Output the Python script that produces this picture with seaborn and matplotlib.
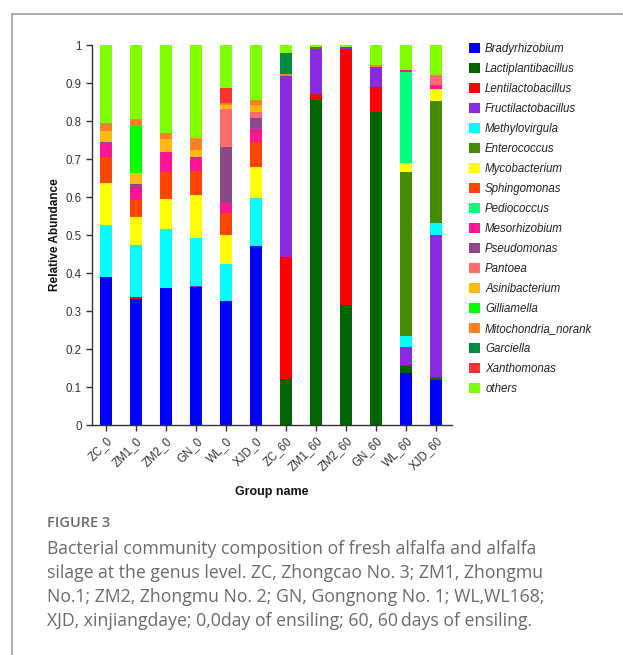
import matplotlib
matplotlib.use("Agg")
import matplotlib.pyplot as plt
from matplotlib.patches import Patch
from matplotlib.lines import Line2D
import numpy as np
import pandas as pd
import seaborn as sns

# Sample groups (fresh = _0, 60-day silage = _60)
groups = ["ZC_0", "ZM1_0", "ZM2_0", "GN_0", "WL_0", "XJD_0",
          "ZC_60", "ZM1_60", "ZM2_60", "GN_60", "WL_60", "XJD_60"]

# Genera in stacking order (bottom to top)
taxa = ["Bradyrhizobium", "Lactiplantibacillus", "Lentilactobacillus",
        "Fructilactobacillus", "Methylovirgula", "Enterococcus",
        "Mycobacterium", "Sphingomonas", "Pediococcus", "Mesorhizobium",
        "Pseudomonas", "Pantoea", "Asinibacterium", "Gilliamella",
        "Mitochondria_norank", "Garciella", "Xanthomonas", "others"]

colors = ["#0000FF", "#006400", "#FF0000", "#8A2BE2", "#00FFFF", "#458B00",
          "#FFFF00", "#FF4500", "#00FF7F", "#FF1493", "#8B4789", "#FF6A6A",
          "#FFB90F", "#00FF00", "#FF7F24", "#008B45", "#FF3030", "#7FFF00"]

# Relative abundance of each genus per group
bradyrhizobium      = [0.390, 0.332, 0.361, 0.364, 0.327, 0.472, 0.000, 0.000, 0.000, 0.000, 0.137, 0.119]
lactiplantibacillus = [0.000, 0.000, 0.000, 0.000, 0.000, 0.000, 0.122, 0.856, 0.315, 0.825, 0.017, 0.005]
lentilactobacillus  = [0.000, 0.004, 0.000, 0.000, 0.000, 0.000, 0.319, 0.015, 0.674, 0.065, 0.003, 0.002]
fructilactobacillus = [0.000, 0.000, 0.000, 0.002, 0.000, 0.000, 0.478, 0.118, 0.005, 0.051, 0.047, 0.375]
methylovirgula      = [0.136, 0.138, 0.155, 0.126, 0.098, 0.125, 0.000, 0.000, 0.000, 0.000, 0.030, 0.031]
enterococcus        = [0.000, 0.000, 0.000, 0.000, 0.000, 0.000, 0.000, 0.006, 0.000, 0.000, 0.431, 0.320]
mycobacterium       = [0.112, 0.073, 0.080, 0.112, 0.076, 0.081, 0.000, 0.000, 0.000, 0.000, 0.024, 0.031]
sphingomonas        = [0.067, 0.045, 0.070, 0.065, 0.057, 0.066, 0.000, 0.000, 0.000, 0.000, 0.000, 0.000]
pediococcus         = [0.000, 0.000, 0.000, 0.000, 0.000, 0.000, 0.000, 0.000, 0.000, 0.000, 0.239, 0.000]
mesorhizobium       = [0.038, 0.034, 0.052, 0.033, 0.025, 0.035, 0.000, 0.000, 0.000, 0.000, 0.007, 0.012]
pseudomonas         = [0.002, 0.007, 0.000, 0.002, 0.149, 0.030, 0.000, 0.000, 0.000, 0.000, 0.000, 0.000]
pantoea             = [0.000, 0.000, 0.000, 0.000, 0.100, 0.016, 0.000, 0.000, 0.000, 0.000, 0.000, 0.027]
asinibacterium      = [0.029, 0.029, 0.034, 0.020, 0.009, 0.017, 0.000, 0.000, 0.000, 0.000, 0.000, 0.000]
gilliamella         = [0.000, 0.126, 0.000, 0.000, 0.000, 0.000, 0.000, 0.000, 0.000, 0.000, 0.000, 0.000]
mitochondria_norank = [0.020, 0.016, 0.017, 0.032, 0.007, 0.013, 0.006, 0.000, 0.000, 0.007, 0.000, 0.000]
garciella           = [0.000, 0.000, 0.000, 0.000, 0.000, 0.000, 0.053, 0.000, 0.000, 0.000, 0.000, 0.000]
xanthomonas         = [0.000, 0.000, 0.000, 0.000, 0.039, 0.000, 0.000, 0.000, 0.000, 0.000, 0.000, 0.000]
others              = [0.206, 0.196, 0.231, 0.244, 0.113, 0.145, 0.022, 0.005, 0.006, 0.052, 0.065, 0.078]

values = [bradyrhizobium, lactiplantibacillus, lentilactobacillus,
          fructilactobacillus, methylovirgula, enterococcus, mycobacterium,
          sphingomonas, pediococcus, mesorhizobium, pseudomonas, pantoea,
          asinibacterium, gilliamella, mitochondria_norank, garciella,
          xanthomonas, others]

yticks = [0, 0.1, 0.2, 0.3, 0.4, 0.5, 0.6, 0.7, 0.8, 0.9, 1]
ytick_labels = ["0", "0.1", "0.2", "0.3", "0.4", "0.5", "0.6", "0.7", "0.8", "0.9", "1"]

df = pd.DataFrame(np.array(values).T, columns=taxa)
df.insert(0, "group", groups)
cum = df[taxa].cumsum(axis=1)
cum.insert(0, "group", groups)

sns.set_style("white")
plt.rcParams["font.family"] = ["Liberation Sans", "DejaVu Sans"]

fig = plt.figure(figsize=(6.23, 6.55), dpi=100)
ax = fig.add_axes([92 / 623, 230 / 655, 360 / 623, 380 / 655])

# Stacked bars: draw cumulative totals from the top layer down
for taxon, color in zip(taxa[::-1], colors[::-1]):
    sns.barplot(data=cum, x="group", y=taxon, order=groups, color=color,
                saturation=1, width=0.4, ax=ax, linewidth=0)

ax.set_xlim(-0.467, 11.533)
ax.set_ylim(0, 1)
ax.set_yticks(yticks)
ax.set_yticklabels(ytick_labels)
ax.set_xticks(range(len(groups)))
ax.set_xticklabels(groups, rotation=45, ha="right", rotation_mode="anchor")

for side in ["top", "right"]:
    ax.spines[side].set_visible(False)
for side in ["left", "bottom"]:
    ax.spines[side].set_color("#333333")
    ax.spines[side].set_linewidth(1.0)
ax.tick_params(axis="both", which="major", direction="out", length=4,
               width=1, color="#333333", labelcolor="#333333", labelsize=8.3,
               left=True, bottom=True)
ax.tick_params(axis="x", pad=3)

ax.set_ylabel("Relative Abundance", fontsize=8.5, fontweight="bold",
              color="#111111", labelpad=3)
ax.set_xlabel("Group name", fontsize=9, fontweight="bold", color="#111111",
              labelpad=9)

handles = [Patch(facecolor=c, edgecolor="none") for c in colors]
leg = fig.legend(handles, taxa, loc="upper left",
                 bbox_to_anchor=(469 / 623, 1 - 43 / 655),
                 frameon=False, fontsize=8.3, handlelength=0.95,
                 handleheight=0.95, handletextpad=0.45, labelspacing=0.695,
                 borderaxespad=0, borderpad=0)
for t in leg.get_texts():
    t.set_fontstyle("italic")
    t.set_color("#222222")

# Page frame lines
fig.add_artist(Line2D([12 / 623, 1], [1 - 14 / 655, 1 - 14 / 655],
                      transform=fig.transFigure, color="#a0a0a0", lw=1.2))
fig.add_artist(Line2D([12 / 623, 12 / 623], [0, 1 - 14 / 655],
                      transform=fig.transFigure, color="#a0a0a0", lw=1.2))

# Caption
cap_color = "#6b6b6b"
fig.text(47 / 623, 1 - 523 / 655, "FIGURE 3", fontsize=10.5,
         family=["Open Sans", "DejaVu Sans"], fontweight="semibold",
         color=cap_color, va="center", ha="left")
caption_lines = [
    "Bacterial community composition of fresh alfalfa and alfalfa",
    "silage at the genus level. ZC, Zhongcao No. 3; ZM1, Zhongmu",
    "No.1; ZM2, Zhongmu No. 2; GN, Gongnong No. 1; WL,WL168;",
    "XJD, xinjiangdaye; 0,0day of ensiling; 60, 60\u2009days of ensiling.",
]
for i, line in enumerate(caption_lines):
    fig.text(47 / 623, 1 - (549 + 24 * i) / 655, line, fontsize=12.7,
             family=["Open Sans", "DejaVu Sans"], color=cap_color,
             va="center", ha="left")

fig.savefig("out.png", dpi=100)
